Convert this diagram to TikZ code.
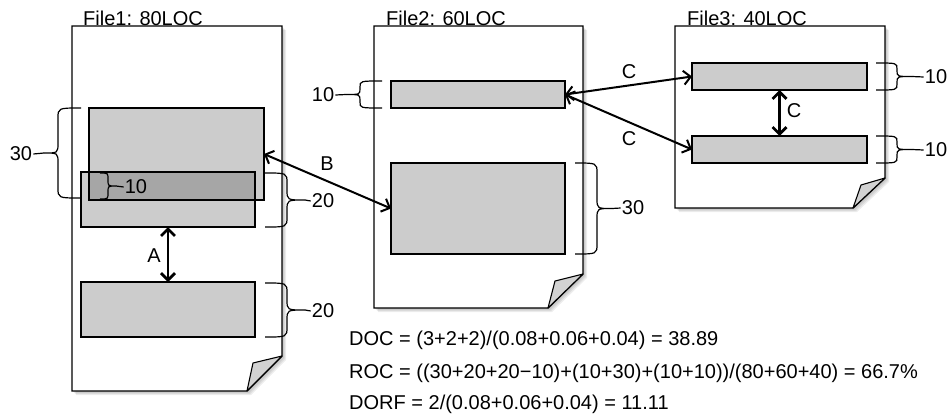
\documentclass[tikz,border=0pt]{standalone}
\usepackage{fontspec}
\setmainfont{Liberation Sans}
\usetikzlibrary{arrows.meta}

% sheet of paper with a folded bottom-right corner and a soft shadow
% #1 left, #2 top, #3 right, #4 bottom, #5 y where the fold starts,
% #6 x where the fold ends, #7/#8 inner corner of the flap
\newcommand\pagesheet[8]{%
  \foreach \s in {1,2,3,4}{%
    \fill[black,opacity=0.07,xshift=\s pt,yshift=-\s pt]
      (#1,#2) -- (#3,#2) -- (#3,#5) -- (#6,#4) -- (#1,#4) -- cycle;}
  \draw[pagepen] (#1,#2) -- (#3,#2) -- (#3,#5) -- (#6,#4) -- (#1,#4) -- cycle;
  \draw[flappen] (#3,#5) -- (#7,#8) -- (#6,#4) -- cycle;
}

% vertical curly brace: #1 name of the tip, #2 x of the arms, #3 x of the bar,
% #4 x of the tip, #5 top y, #6 bottom y, #7 corner radius
\newcommand\curlybrace[7]{%
  \pgfmathsetmacro\bym{(#5+#6)/2}%
  \draw[bracepen] (#2,#5) .. controls (#3,#5) .. (#3,#5+#7)
    -- (#3,\bym-#7) .. controls (#3,\bym) .. (#4,\bym) coordinate (#1)
    .. controls (#3,\bym) .. (#3,\bym+#7)
    -- (#3,#6-#7) .. controls (#3,#6) .. (#2,#6);
}

\begin{document}
\begin{tikzpicture}[x=1pt,y=-1pt,
  font=\fontsize{20}{24}\selectfont,
  pagepen/.style={draw=black,fill=white,line width=1.3pt,line join=miter},
  flappen/.style={draw=black,fill=gray!35,line width=1.1pt,line join=round},
  boxfill/.style={fill=gray!40,inner sep=0pt,outer sep=0pt},
  boxline/.style={draw=black,line width=2pt},
  codebox/.style={boxfill,draw=black,line width=2pt},
  bracepen/.style={draw=black,line width=1.2pt},
  tag/.style={inner sep=1pt},
  dbl/.style={{Straight Barb[length=7pt,width=14pt]}-{Straight Barb[length=7pt,width=14pt]},line width=2pt},
  vdbl/.style={{Straight Barb[length=7pt,width=14pt]}-{Straight Barb[length=7pt,width=14pt]},line width=2.8pt},
  title/.style={anchor=base west,inner sep=0pt},
  formula/.style={anchor=base west,inner sep=0pt}]

\path[use as bounding box] (0,0) rectangle (950,418);

% ---- the three files ----
\pagesheet{72}{26}{282}{391}{356}{247}{253}{363}
\pagesheet{374}{26}{583}{308}{274}{548}{555}{281}
\pagesheet{675}{26}{885}{208}{178}{853}{861}{185}

\node[title] (t1) at (83,25) {File1: 80LOC};
\node[title] (t2) at (386,25) {File2: 60LOC};
\node[title] (t3) at (687,25) {File3: 40LOC};

% ---- File1: two overlapping blocks and one separate block ----
\node[boxfill,minimum width=175pt,minimum height=92pt] (a1) at (176.5,154) {};
\node[boxfill,minimum width=174pt,minimum height=55pt] (a2) at (168,199.5) {};
\fill[gray!70] (a1.west |- a2.north) rectangle (a2.east |- a1.south);
\draw[boxline] (a1.north west) rectangle (a1.south east);
\draw[boxline] (a2.north west) rectangle (a2.south east);
\node[codebox,minimum width=174pt,minimum height=55pt] (a3) at (168,309.5) {};

% ---- File2 blocks ----
\node[codebox,minimum width=174pt,minimum height=27pt] (b1) at (478,94.5) {};
\node[codebox,minimum width=174pt,minimum height=91pt] (b2) at (478,208.5) {};

% ---- File3 blocks ----
\node[codebox,minimum width=175pt,minimum height=27pt] (c1) at (779.5,76.5) {};
\node[codebox,minimum width=175pt,minimum height=27pt] (c2) at (779.5,149.5) {};

% ---- size braces ----
\curlybrace{k30a}{81}{58}{44}{108}{198}{10}
\node[tag] (n30a) at (21,154) {30};
\draw[bracepen] (n30a.east) -- (k30a);

\curlybrace{k10a}{100}{108}{116}{173}{199}{6}
\node[tag] (n10a) at (136,187) {10};
\draw[bracepen] (k10a) -- (n10a.west);

\curlybrace{k20a}{265}{287}{305}{173}{227}{10}
\node[tag] (n20a) at (323,201) {20};
\draw[bracepen] (k20a) -- (n20a.west);

\curlybrace{k20b}{265}{287}{305}{283}{337}{10}
\node[tag] (n20b) at (323,311) {20};
\draw[bracepen] (k20b) -- (n20b.west);

\curlybrace{k10b}{382}{360}{346}{81}{108}{6}
\node[tag] (n10b) at (323,95) {10};
\draw[bracepen] (n10b.east) -- (k10b);

\curlybrace{k30b}{575}{597}{612}{163}{254}{10}
\node[tag] (n30b) at (633,208) {30};
\draw[bracepen] (k30b) -- (n30b.west);

\curlybrace{k10c}{876}{897}{912}{63}{90}{6}
\node[tag] (n10c) at (936,77) {10};
\draw[bracepen] (k10c) -- (n10c.west);

\curlybrace{k10d}{876}{897}{912}{136}{163}{6}
\node[tag] (n10d) at (936,150) {10};
\draw[bracepen] (k10d) -- (n10d.west);

% ---- duplication links ----
\draw[vdbl] (a2.south) -- (a3.north);
\node[tag] (la) at (154,256) {A};

\draw[dbl] (a1.east) -- (b2.west);
\node[tag] (lb) at (327,164) {B};

\draw[dbl] (b1.east) -- (c1.west);
\draw[dbl] (b1.east) -- (c2.west);
\node[tag] (lc1) at (629,72) {C};
\node[tag] (lc2) at (629,139) {C};

\draw[vdbl] (c1.south) -- (c2.north);
\node[tag] (lc3) at (794,111) {C};

% ---- metrics ----
\node[formula] (f1) at (349,345) {DOC = (3+2+2)/(0.08+0.06+0.04) = 38.89};
\node[formula] (f2) at (349,378) {ROC = ((30+20+20−10)+(10+30)+(10+10))/(80+60+40) = 66.7\%};
\node[formula] (f3) at (349,409) {DORF = 2/(0.08+0.06+0.04) = 11.11};

\end{tikzpicture}
\end{document}
